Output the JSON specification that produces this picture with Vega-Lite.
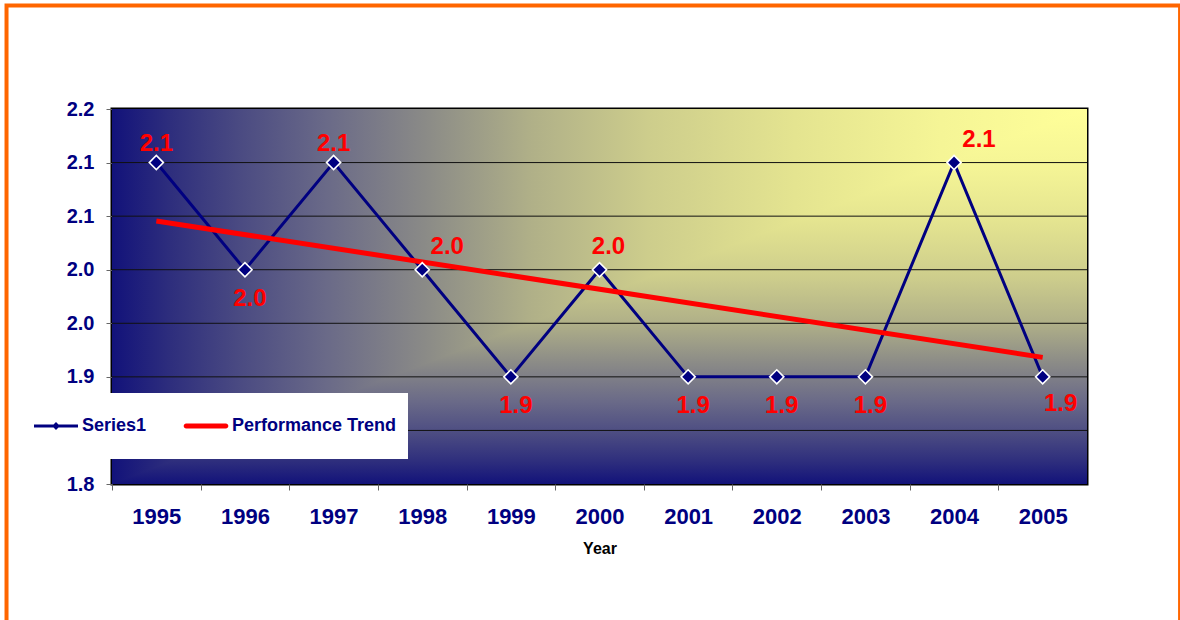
{
  "$schema": "https://vega.github.io/schema/vega-lite/v6.json",
  "width": 975,
  "height": 375,
  "autosize": {"type": "none"},
  "padding": {"left": 112, "top": 109, "right": 93, "bottom": 136},
  "background": "white",
  "config": {
    "view": {"stroke": "#000000", "strokeWidth": 3},
    "font": "Liberation Sans"
  },
  "datasets": {
    "performance": [
      {"Year": 1995, "Value": 2.1},
      {"Year": 1996, "Value": 2.0},
      {"Year": 1997, "Value": 2.1},
      {"Year": 1998, "Value": 2.0},
      {"Year": 1999, "Value": 1.9},
      {"Year": 2000, "Value": 2.0},
      {"Year": 2001, "Value": 1.9},
      {"Year": 2002, "Value": 1.9},
      {"Year": 2003, "Value": 1.9},
      {"Year": 2004, "Value": 2.1},
      {"Year": 2005, "Value": 1.9}
    ],
    "gridlines": [
      {"level": 1.85}, {"level": 1.9}, {"level": 1.95},
      {"level": 2.0}, {"level": 2.05}, {"level": 2.1}
    ],
    "cornerFade": [
      {"edge": 1994.5, "floor": 1.8, "ceil": 1.8},
      {"edge": 2005.5, "floor": 1.8, "ceil": 2.15}
    ]
  },
  "data": {"name": "performance"},
  "layer": [
    {
      "data": {"values": [{}]},
      "mark": {"type": "rect", "filled": false, "stroke": "#FF6600", "strokeWidth": 4, "clip": false},
      "encoding": {
        "x": {
          "datum": 1993.31, "type": "quantitative",
          "scale": {"domain": [1994.5, 2005.5], "nice": false, "zero": false},
          "axis": {
            "values": [1995, 1996, 1997, 1998, 1999, 2000, 2001, 2002, 2003, 2004, 2005, 2006],
            "format": "d",
            "labelExpr": "datum.value > 2005 ? '' : datum.label",
            "tickOffset": -44.318,
            "labelOffset": 44.318,
            "tickSize": 6, "tickColor": "#666666", "tickWidth": 1,
            "domain": false, "grid": false,
            "labelPadding": 16, "labelFont": "Liberation Sans", "labelFontSize": 22,
            "labelFontWeight": "bold", "labelColor": "#000080",
            "labelOverlap": false, "labelFlush": false, "labelBound": false,
            "title": "Year", "titleFont": "Liberation Sans", "titleFontSize": 16,
            "titleFontWeight": "bold", "titleColor": "#000000", "titlePadding": 13
          }
        },
        "x2": {"datum": 2006.55},
        "y": {
          "datum": 2.2466, "type": "quantitative",
          "scale": {"domain": [1.8, 2.15], "nice": false, "zero": false},
          "axis": {
            "values": [1.8, 1.85, 1.9, 1.95, 2.0, 2.05, 2.1, 2.15],
            "labelExpr": "datum.value > 1.84 && datum.value < 1.86 ? '' : format(datum.value + 0.0001, '.1f')",
            "tickSize": 6, "tickColor": "#666666", "tickWidth": 1,
            "domain": false, "grid": false,
            "labelPadding": 12, "labelFont": "Liberation Sans", "labelFontSize": 20,
            "labelFontWeight": "bold", "labelColor": "#000080",
            "labelOverlap": false, "labelFlush": false,
            "title": null
          }
        },
        "y2": {"datum": 1.6}
      }
    },
    {
      "data": {"values": [{}]},
      "mark": {
        "type": "rect",
        "fill": {
          "gradient": "linear", "x1": 1, "y1": 0, "x2": 0, "y2": 0,
          "stops": [
            {"offset": 0, "color": "#FFFF99"},
            {"offset": 0.15, "color": "#F5F596"},
            {"offset": 0.3, "color": "#E4E490"},
            {"offset": 0.45, "color": "#CDCD8C"},
            {"offset": 0.57, "color": "#B0B088"},
            {"offset": 0.68, "color": "#8A8A87"},
            {"offset": 0.78, "color": "#6A6A88"},
            {"offset": 0.87, "color": "#4A4A82"},
            {"offset": 0.94, "color": "#2E2E7D"},
            {"offset": 1, "color": "#12127A"}
          ]
        }
      },
      "encoding": {
        "x": {"datum": 1994.5, "type": "quantitative", "scale": {"domain": [1994.5, 2005.5], "nice": false, "zero": false}},
        "x2": {"datum": 2005.5},
        "y": {"datum": 2.15, "type": "quantitative", "scale": {"domain": [1.8, 2.15], "nice": false, "zero": false}},
        "y2": {"datum": 1.8}
      }
    },
    {
      "data": {"name": "cornerFade"},
      "mark": {
        "type": "area",
        "fill": {
          "gradient": "linear", "x1": 0, "y1": 0, "x2": 0, "y2": 1,
          "stops": [
            {"offset": 0, "color": "#FFFF99"},
            {"offset": 0.15, "color": "#F5F596"},
            {"offset": 0.3, "color": "#E4E490"},
            {"offset": 0.45, "color": "#CDCD8C"},
            {"offset": 0.57, "color": "#B0B088"},
            {"offset": 0.68, "color": "#8A8A87"},
            {"offset": 0.78, "color": "#6A6A88"},
            {"offset": 0.87, "color": "#4A4A82"},
            {"offset": 0.94, "color": "#2E2E7D"},
            {"offset": 1, "color": "#12127A"}
          ]
        }
      },
      "encoding": {
        "x": {"field": "edge", "type": "quantitative", "scale": {"domain": [1994.5, 2005.5], "nice": false, "zero": false}},
        "y": {"field": "ceil", "type": "quantitative", "scale": {"domain": [1.8, 2.15], "nice": false, "zero": false}},
        "y2": {"field": "floor"}
      }
    },
    {
      "data": {"name": "gridlines"},
      "mark": {"type": "rule", "color": "#111111", "strokeWidth": 1},
      "encoding": {
        "y": {"field": "level", "type": "quantitative", "scale": {"domain": [1.8, 2.15], "nice": false, "zero": false}}
      }
    },
    {
      "mark": {"type": "line", "strokeWidth": 3},
      "encoding": {
        "x": {"field": "Year", "type": "quantitative", "scale": {"domain": [1994.5, 2005.5], "nice": false, "zero": false}},
        "y": {"field": "Value", "type": "quantitative", "scale": {"domain": [1.8, 2.15], "nice": false, "zero": false}},
        "color": {
          "datum": "Series1",
          "scale": {"domain": ["Series1", "Performance Trend"], "range": ["#000080", "#FF0000"]},
          "legend": {
            "orient": "none", "legendX": -89, "legendY": 284,
            "direction": "horizontal", "title": null,
            "fillColor": "#FFFFFF", "padding": 11,
            "symbolSize": 1936, "symbolStrokeWidth": 0,
            "labelFont": "Liberation Sans", "labelFontSize": 18, "labelFontWeight": "bold",
            "labelColor": "#000080", "labelOffset": 4, "labelLimit": 400, "columnPadding": 36,
            "encode": {
              "symbols": {
                "update": {
                  "shape": {"signal": "datum.value === 'Series1' ? 'M-1,-1M-1,1M-1,-0.07H1V0.07H-1ZM-0.18,0L0,-0.18L0.18,0L0,0.18Z' : 'M-1,-1M-1,1M-0.9,-0.115H0.9A0.115,0.115,0,0,1,0.9,0.115H-0.9A0.115,0.115,0,0,1,-0.9,-0.115Z'"},
                  "fill": {"signal": "datum.value === 'Series1' ? '#000080' : '#FF0000'"},
                  "fillOpacity": {"value": 1},
                  "strokeWidth": {"value": 0}
                }
              }
            }
          }
        }
      }
    },
    {
      "transform": [{"regression": "Value", "on": "Year", "extent": [1995, 2005]}],
      "mark": {"type": "line", "strokeWidth": 5, "strokeCap": "butt"},
      "encoding": {
        "x": {"field": "Year", "type": "quantitative", "scale": {"domain": [1994.5, 2005.5], "nice": false, "zero": false}},
        "y": {"field": "Value", "type": "quantitative", "scale": {"domain": [1.8, 2.15], "nice": false, "zero": false}},
        "color": {"datum": "Performance Trend"}
      }
    },
    {
      "mark": {"type": "point", "shape": "diamond", "filled": true, "fill": "#000080", "stroke": "#FFFFFF", "strokeWidth": 1.6, "size": 200, "opacity": 1},
      "encoding": {
        "x": {"field": "Year", "type": "quantitative", "scale": {"domain": [1994.5, 2005.5], "nice": false, "zero": false}},
        "y": {"field": "Value", "type": "quantitative", "scale": {"domain": [1.8, 2.15], "nice": false, "zero": false}}
      }
    },
    {
      "transform": [{"filter": {"field": "Year", "oneOf": [1995, 1997]}}],
      "mark": {"type": "text", "font": "Liberation Sans", "fontSize": 24, "fontWeight": "bold", "color": "#FF0000", "align": "center", "baseline": "middle", "dx": 0, "dy": -19},
      "encoding": {
        "x": {"field": "Year", "type": "quantitative", "scale": {"domain": [1994.5, 2005.5], "nice": false, "zero": false}},
        "y": {"field": "Value", "type": "quantitative", "scale": {"domain": [1.8, 2.15], "nice": false, "zero": false}},
        "text": {"field": "Value", "type": "quantitative", "format": ".1f"}
      }
    },
    {
      "transform": [{"filter": {"field": "Year", "oneOf": [2000]}}],
      "mark": {"type": "text", "font": "Liberation Sans", "fontSize": 24, "fontWeight": "bold", "color": "#FF0000", "align": "center", "baseline": "middle", "dx": 9, "dy": -23},
      "encoding": {
        "x": {"field": "Year", "type": "quantitative", "scale": {"domain": [1994.5, 2005.5], "nice": false, "zero": false}},
        "y": {"field": "Value", "type": "quantitative", "scale": {"domain": [1.8, 2.15], "nice": false, "zero": false}},
        "text": {"field": "Value", "type": "quantitative", "format": ".1f"}
      }
    },
    {
      "transform": [{"filter": {"field": "Year", "oneOf": [1998, 2004]}}],
      "mark": {"type": "text", "font": "Liberation Sans", "fontSize": 24, "fontWeight": "bold", "color": "#FF0000", "align": "center", "baseline": "middle", "dx": 25, "dy": -23},
      "encoding": {
        "x": {"field": "Year", "type": "quantitative", "scale": {"domain": [1994.5, 2005.5], "nice": false, "zero": false}},
        "y": {"field": "Value", "type": "quantitative", "scale": {"domain": [1.8, 2.15], "nice": false, "zero": false}},
        "text": {"field": "Value", "type": "quantitative", "format": ".1f"}
      }
    },
    {
      "transform": [{"filter": {"field": "Year", "oneOf": [1996, 1999, 2001, 2002, 2003]}}],
      "mark": {"type": "text", "font": "Liberation Sans", "fontSize": 24, "fontWeight": "bold", "color": "#FF0000", "align": "center", "baseline": "middle", "dx": 5, "dy": 29},
      "encoding": {
        "x": {"field": "Year", "type": "quantitative", "scale": {"domain": [1994.5, 2005.5], "nice": false, "zero": false}},
        "y": {"field": "Value", "type": "quantitative", "scale": {"domain": [1.8, 2.15], "nice": false, "zero": false}},
        "text": {"field": "Value", "type": "quantitative", "format": ".1f"}
      }
    },
    {
      "transform": [{"filter": {"field": "Year", "oneOf": [2005]}}],
      "mark": {"type": "text", "font": "Liberation Sans", "fontSize": 24, "fontWeight": "bold", "color": "#FF0000", "align": "center", "baseline": "middle", "dx": 18, "dy": 27},
      "encoding": {
        "x": {"field": "Year", "type": "quantitative", "scale": {"domain": [1994.5, 2005.5], "nice": false, "zero": false}},
        "y": {"field": "Value", "type": "quantitative", "scale": {"domain": [1.8, 2.15], "nice": false, "zero": false}},
        "text": {"field": "Value", "type": "quantitative", "format": ".1f"}
      }
    }
  ]
}
